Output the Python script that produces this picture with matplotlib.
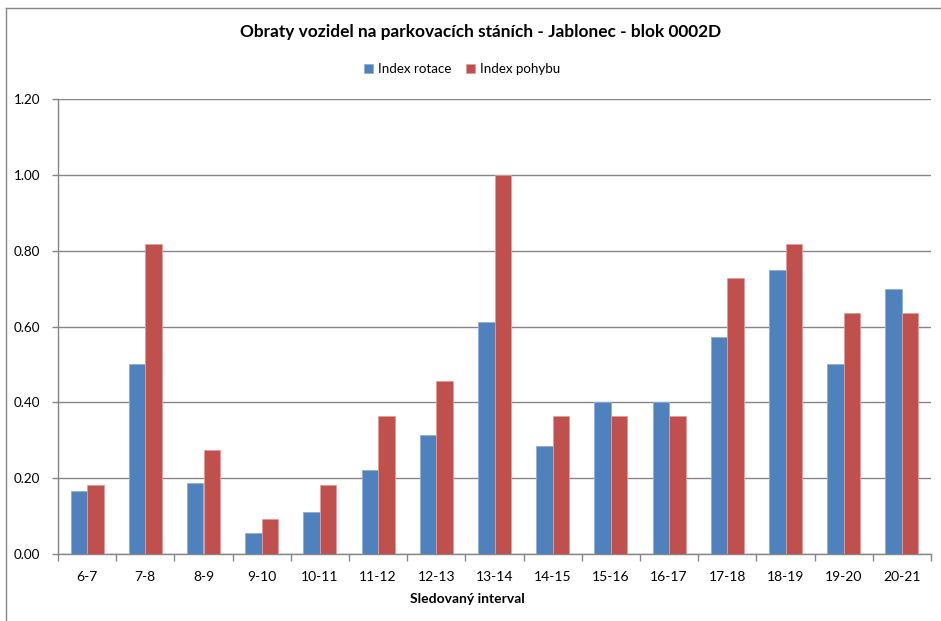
import numpy as np
import matplotlib.pyplot as plt
from matplotlib.lines import Line2D

intervals = ["6-7", "7-8", "8-9", "9-10", "10-11", "11-12", "12-13", "13-14",
             "14-15", "15-16", "16-17", "17-18", "18-19", "19-20", "20-21"]
index_rotace = [0.167, 0.500, 0.188, 0.056, 0.111, 0.222, 0.313, 0.611,
                0.286, 0.400, 0.400, 0.571, 0.750, 0.500, 0.700]
index_pohybu = [0.182, 0.818, 0.273, 0.091, 0.182, 0.364, 0.455, 1.000,
                0.364, 0.364, 0.364, 0.727, 0.818, 0.636, 0.636]

plt.rcParams['font.family'] = ['Lato', 'DejaVu Sans']

fig = plt.figure(figsize=(9.41, 6.21), dpi=100)
ax = fig.add_axes([58 / 941, 1 - 554 / 621, 873 / 941, 455 / 621])

x = np.arange(len(intervals))
w = 0.285
ax.bar(x - w / 2, index_rotace, w, color="#4F81BD", edgecolor="#8FAFD8",
       linewidth=0.6, label="Index rotace", zorder=3)
ax.bar(x + w / 2, index_pohybu, w, color="#C0504D", edgecolor="#E29C9A",
       linewidth=0.6, label="Index pohybu", zorder=3)

ax.set_xlim(-0.5, len(intervals) - 0.5)
ax.set_ylim(0, 1.2)
ax.set_yticks(np.arange(0, 1.21, 0.2))
ax.set_yticklabels([f"{v:.2f}" for v in np.arange(0, 1.21, 0.2)])
ax.set_xticks(x)
ax.set_xticklabels(intervals)
ax.set_xticks(np.arange(-0.5, len(intervals)), minor=True)
ax.tick_params(axis="x", which="major", length=0, pad=12, labelsize=10)
ax.tick_params(axis="x", which="minor", length=5, color="#868686", width=1)
ax.tick_params(axis="y", length=4, color="#868686", width=1, pad=9, labelsize=9.7)
ax.grid(axis="y", color="#868686", linewidth=1, zorder=0)

for s in ["top", "right"]:
    ax.spines[s].set_visible(False)
for s in ["left", "bottom"]:
    ax.spines[s].set_color("#868686")
    ax.spines[s].set_linewidth(1)

fig.text(467 / 941, 1 - 599 / 621, "Sledovaný interval", ha="center", va="center",
         fontsize=10, fontweight="bold")

fig.text(480.5 / 941, 1 - 32 / 621, "Obraty vozidel na parkovacích stáních - Jablonec - blok 0002D",
         ha="center", va="center", fontsize=12.4, fontweight="bold")
fig.legend(loc="center", bbox_to_anchor=(462 / 941, 1 - 69 / 621), ncol=2, frameon=False,
           fontsize=9.6, handlelength=0.7, handleheight=0.7, handletextpad=0.35,
           columnspacing=1.1)

# chart border (left and top)
fig.add_artist(Line2D([6 / 941, 6 / 941], [0, 1 - 8 / 621], color="#868686", linewidth=1))
fig.add_artist(Line2D([6 / 941, 1], [1 - 8 / 621, 1 - 8 / 621], color="#868686", linewidth=1))

fig.savefig("out.png", dpi=100)
